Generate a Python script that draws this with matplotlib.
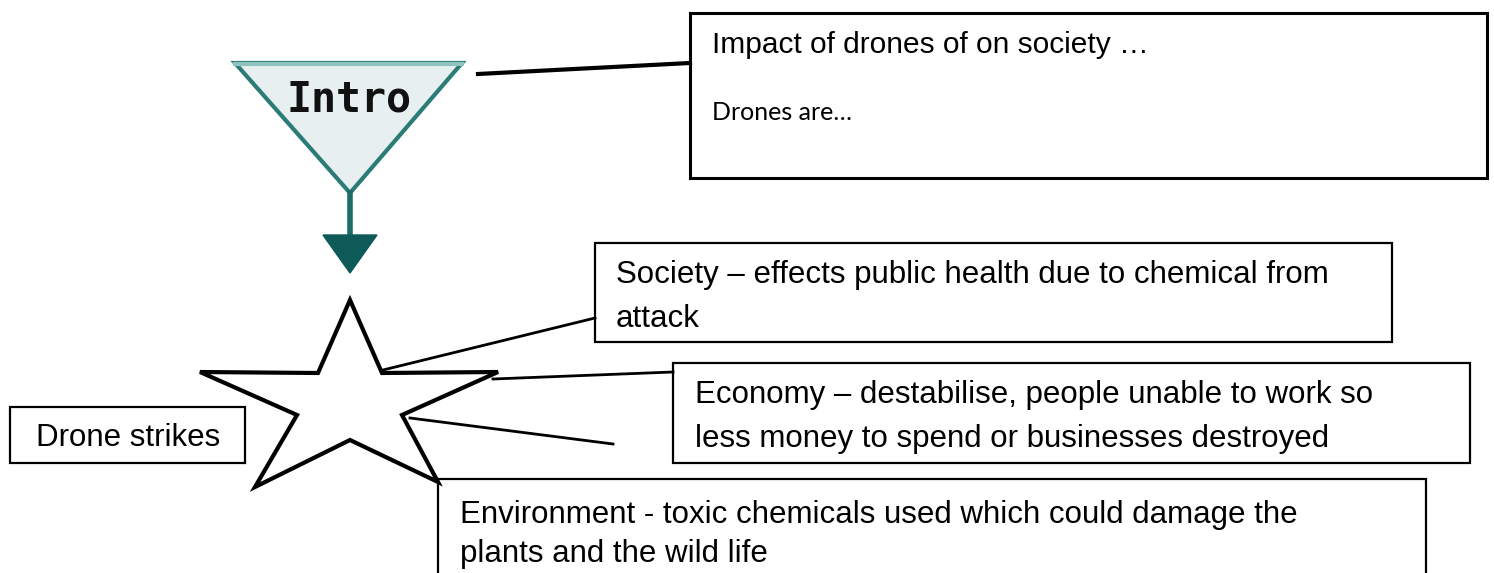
import matplotlib
matplotlib.use("Agg")
import matplotlib.pyplot as plt
from matplotlib.patches import Polygon, Rectangle

W, H = 1494, 573

# ---- content ----
intro_label = "Intro"
hub_label = "Drone strikes"
top_lines = ["Impact of drones of on society \u2026", "Drones are\u2026"]
society_lines = ["Society \u2013 effects public health due to chemical from", "attack"]
economy_lines = ["Economy \u2013 destabilise, people unable to work so",
                 "less money to spend or businesses destroyed"]
environment_lines = ["Environment - toxic chemicals used which could damage the",
                     "plants and the wild life"]

# ---- geometry (pixel layout) ----
top_box = (690, 13, 1487, 178)
society_box = (595, 243, 1392, 342)
economy_box = (673, 363, 1470, 463)
env_box = (438, 479, 1426, 590)
hub_box = (10, 407, 245, 463)

star_pts = [(350, 300), (382, 373), (498, 372), (402, 415), (438, 482),
            (350, 440), (255, 487), (297, 415), (200, 372), (318, 373)]
tri_pts = [(235, 63), (462, 63), (350, 193)]

fig = plt.figure(figsize=(W / 100, H / 100), dpi=100)
ax = fig.add_axes([0, 0, 1, 1])
ax.set_xlim(0, W)
ax.set_ylim(H, 0)
ax.axis("off")

sans = ["Liberation Sans", "DejaVu Sans"]
FS = 22.5


def box(b, lw=1.6):
    x0, y0, x1, y1 = b
    ax.add_patch(Rectangle((x0, y0), x1 - x0, y1 - y0, fill=False,
                           edgecolor="black", linewidth=lw, zorder=3))


# Intro triangle + arrow
ax.add_patch(Polygon(tri_pts, closed=True, facecolor="#e8eff0",
                     edgecolor="#2b7b77", linewidth=3, zorder=2))
ax.plot([235, 462], [64, 64], color="#8fc3bf", lw=3, zorder=3)
ax.text(349, 112, intro_label, fontsize=30, family=["DejaVu Sans Mono"],
        fontweight="bold", color="#111111", ha="center", va="baseline", zorder=4)
ax.plot([350, 350], [193, 238], color="#1f6b68", lw=4, zorder=2)
ax.add_patch(Polygon([(323, 235), (377, 235), (350, 273)], closed=True,
                     facecolor="#0e5a58", edgecolor="#0e5a58", lw=1, zorder=2))

# connector lines
ax.plot([478, 690], [74, 63], color="black", lw=3, zorder=2)
ax.plot([383, 595], [370, 318], color="black", lw=2, zorder=2)
ax.plot([493, 673], [379, 372], color="black", lw=2, zorder=2)
ax.plot([410, 613], [418, 444], color="black", lw=2, zorder=2)

# star
ax.add_patch(Polygon(star_pts, closed=True, facecolor="white",
                     edgecolor="black", linewidth=3, joinstyle="miter", zorder=3))

# boxes
box(top_box, lw=2.2)
box(society_box)
box(economy_box)
box(env_box)
box(hub_box)

# texts
ax.text(top_box[0] + 22, 53, top_lines[0], fontsize=21.5, family=sans,
        va="baseline", ha="left", zorder=4)
ax.text(top_box[0] + 22, 120, top_lines[1], fontsize=18, family=["Lato", "DejaVu Sans"],
        va="baseline", ha="left", zorder=4)

for i, t in enumerate(society_lines):
    ax.text(616, 283 + 44 * i, t, fontsize=FS, family=sans, va="baseline", ha="left", zorder=4)
for i, t in enumerate(economy_lines):
    ax.text(695, 403 + 44 * i, t, fontsize=FS, family=sans, va="baseline", ha="left", zorder=4)
for i, t in enumerate(environment_lines):
    ax.text(460, 523 + 39 * i, t, fontsize=FS, family=sans, va="baseline", ha="left", zorder=4)

ax.text((hub_box[0] + hub_box[2]) / 2 + 1, 446, hub_label, fontsize=FS, family=sans,
        va="baseline", ha="center", zorder=4)

fig.savefig("out.png", dpi=100, facecolor="white")
